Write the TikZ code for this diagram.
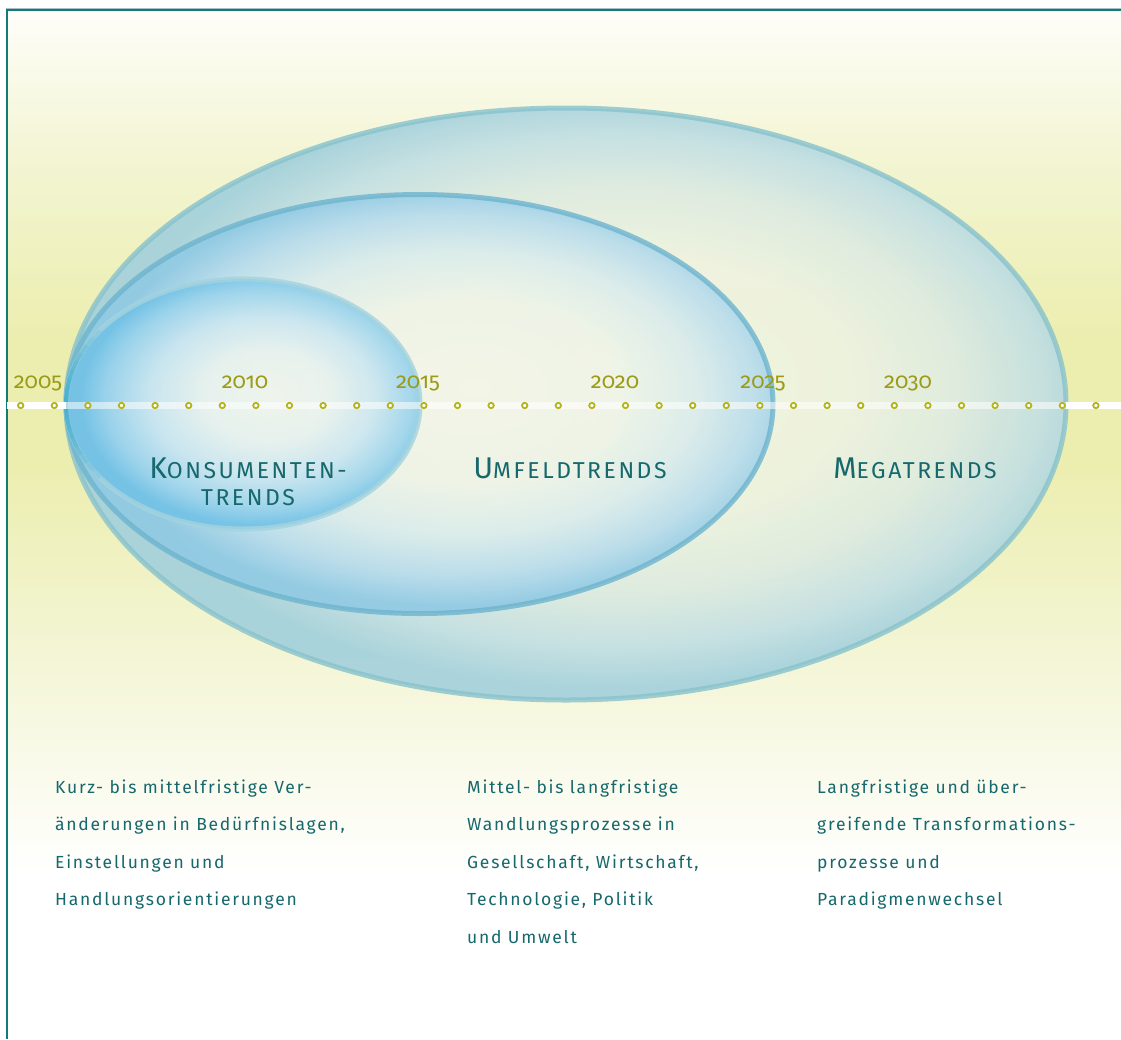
\documentclass[tikz,border=0pt]{standalone}
\usepackage{fontspec}
\setmainfont{Fira Sans}
\newfontfamily\bodyfont{Fira Sans}[LetterSpace=10,Ligatures=NoCommon]
\newfontfamily\yearfont{Fira Sans}[Numbers=OldStyle]
\newfontfamily\labelfont{Fira Sans}[LetterSpace=11,Ligatures=NoCommon]

\definecolor{frameteal}{HTML}{127A78}
\definecolor{framegrey}{HTML}{A8C0C4}
\definecolor{textteal}{HTML}{16686C}
\definecolor{yearolive}{HTML}{9C9B16}
\definecolor{dotolive}{HTML}{B3B51D}
\definecolor{bgpeak}{HTML}{ECEEAF}
\definecolor{bgmid}{HTML}{F3F5D4}
\definecolor{bgtop}{HTML}{FEFEFA}
\definecolor{rimmega}{HTML}{88C2CC}
\definecolor{rimumf}{HTML}{6EB4CE}
\definecolor{rimkon}{HTML}{A4D3DF}
\definecolor{tangentcyan}{HTML}{14A0C8}

% glass colours, from the pale middle out to the rim
\definecolor{megaA}{HTML}{F2F5E4}
\definecolor{megaB}{HTML}{EEF3E2}
\definecolor{megaC}{HTML}{DDEBE2}
\definecolor{megaD}{HTML}{C2DFE4}
\definecolor{megaE}{HTML}{A2D0DC}
\definecolor{umfA}{HTML}{F4F6E6}
\definecolor{umfB}{HTML}{EFF4E8}
\definecolor{umfC}{HTML}{DAECEC}
\definecolor{umfD}{HTML}{B8DCEC}
\definecolor{umfE}{HTML}{90CAE4}
\definecolor{konA}{HTML}{F0F5EC}
\definecolor{konB}{HTML}{E8F2EE}
\definecolor{konC}{HTML}{CAE6F0}
\definecolor{konD}{HTML}{9CD4EC}
\definecolor{konE}{HTML}{72C2E6}

% pale-yellow backdrop, strongest around the time axis
% (the path is mapped onto the central band 25bp..75bp)
\pgfdeclareverticalshading{backdrop}{100bp}{color(0bp)=(white); color(33bp)=(white); color(44bp)=(bgmid); color(53bp)=(bgpeak); color(59bp)=(bgpeak); color(68bp)=(bgmid); color(75bp)=(bgtop); color(100bp)=(bgtop)}

% glassy bubbles: pale in the middle, blue towards the rim
% (the outline of each ellipse sits on the 25bp circle)
\pgfdeclareradialshading{megaglass}{\pgfpoint{4bp}{2bp}}{color(0bp)=(megaA); color(11bp)=(megaB); color(17bp)=(megaC); color(21.5bp)=(megaD); color(25bp)=(megaE); color(50bp)=(megaE)}
\pgfdeclareradialshading{umfglass}{\pgfpoint{4bp}{2bp}}{color(0bp)=(umfA); color(11bp)=(umfB); color(17bp)=(umfC); color(21.5bp)=(umfD); color(25bp)=(umfE); color(50bp)=(umfE)}
\pgfdeclareradialshading{konglass}{\pgfpoint{4bp}{2bp}}{color(0bp)=(konA); color(9bp)=(konB); color(16bp)=(konC); color(21.5bp)=(konD); color(25bp)=(konE); color(50bp)=(konE)}

\newcommand\trendinitial[1]{{\fontsize{30}{30}\selectfont #1}}
\newcommand\trendrest[1]{{\fontsize{23}{23}\selectfont #1}}

\begin{document}
\begin{tikzpicture}[x=1pt,y=-1pt,
  bodytext/.style={anchor=base west, inner sep=0pt, align=left, text=textteal,
    font=\bodyfont\fontsize{17.5}{37.5}\selectfont},
  yearlabel/.style={anchor=base, inner sep=0pt, text=yearolive,
    font=\yearfont\fontsize{22}{22}\selectfont},
  trendlabel/.style={anchor=base, inner sep=0pt, text=textteal, font=\labelfont},
  tickdot/.style={circle, draw=dotolive, fill=white, line width=1.8pt,
    minimum size=5.4pt, inner sep=0pt},
  glass/.style={opacity=0.9},
  rimline/.style={line width=5pt, opacity=0.8},
  tangentglow/.style={tangentcyan, line width=4pt, opacity=0.09}]

\useasboundingbox (0,0) rectangle (1121,1039);
\fill[white] (0,0) rectangle (1121,1039);

% backdrop and frame
\shade[shading=backdrop] (6.5,10) rectangle (1121,1039);
\draw[framegrey, line width=1pt] (6,8.4) -- (1121,8.4);
\draw[frameteal, line width=2pt] (6.5,1039) -- (6.5,10) -- (1121,10);

% the three nested trend bubbles
\shade[shading=megaglass, glass] (566,404) ellipse [x radius=500pt, y radius=296pt];
\draw[rimmega, rimline] (566,404) ellipse [x radius=500pt, y radius=296pt];

\shade[shading=umfglass, glass] (419.5,404) ellipse [x radius=353.5pt, y radius=209.5pt];
\draw[rimumf, rimline] (419.5,404) ellipse [x radius=353.5pt, y radius=209.5pt];

\shade[shading=konglass, glass] (243,404) ellipse [x radius=177pt, y radius=125pt];
\draw[rimkon, rimline] (243,404) ellipse [x radius=177pt, y radius=125pt];

% deeper cyan where the three rims meet on the left, built up softly
\foreach \k in {0,...,8} {
  \pgfmathsetmacro\half{36-4*\k}
  \draw[tangentglow] (243,404) ++({180-\half}:177pt and 125pt)
    arc[start angle={180-\half}, end angle={180+\half}, x radius=177pt, y radius=125pt];
}

% time axis
\fill[white] (6.5,401.7) rectangle (66,409.3);
\fill[white, opacity=0.55] (66,401.7) rectangle (1066,409.3);
\fill[white] (1066,401.7) rectangle (1121,409.3);
\foreach \i in {0,...,32}
  \node[tickdot] (dot\i) at ({20.7+33.6*\i},405.5) {};

\node[yearlabel] (y2005) at (38,388) {2005};
\node[yearlabel] (y2010) at (245,388) {2010};
\node[yearlabel] (y2015) at (418,388) {2015};
\node[yearlabel] (y2020) at (615,388) {2020};
\node[yearlabel] (y2025) at (763,388) {2025};
\node[yearlabel] (y2030) at (908,388) {2030};

% bubble titles
\node[trendlabel] (konsA) at (248,478) {\trendinitial{K}\trendrest{ONSUMENTEN-}};
\node[trendlabel] (konsB) at (248,505) {\trendrest{TRENDS}};
\node[trendlabel] (umfeld) at (570,478) {\trendinitial{U}\trendrest{MFELDTRENDS}};
\node[trendlabel] (mega) at (915,478) {\trendinitial{M}\trendrest{EGATRENDS}};

% descriptions (base anchor sits on the last line)
\node[bodytext] (descKons) at (55,905.5) {Kurz- bis mittelfristige Ver-\\
änderungen in Bedürfnislagen,\\
Einstellungen und\\
Handlungsorientierungen};
\node[bodytext] (descUmf) at (467,943) {Mittel- bis langfristige\\
Wandlungsprozesse in\\
Gesellschaft, Wirtschaft,\\
Technologie, Politik\\
und Umwelt};
\node[bodytext] (descMega) at (817,905.5) {Langfristige und über-\\
greifende Transformations-\\
prozesse und\\
Paradigmenwechsel};
\end{tikzpicture}
\end{document}
